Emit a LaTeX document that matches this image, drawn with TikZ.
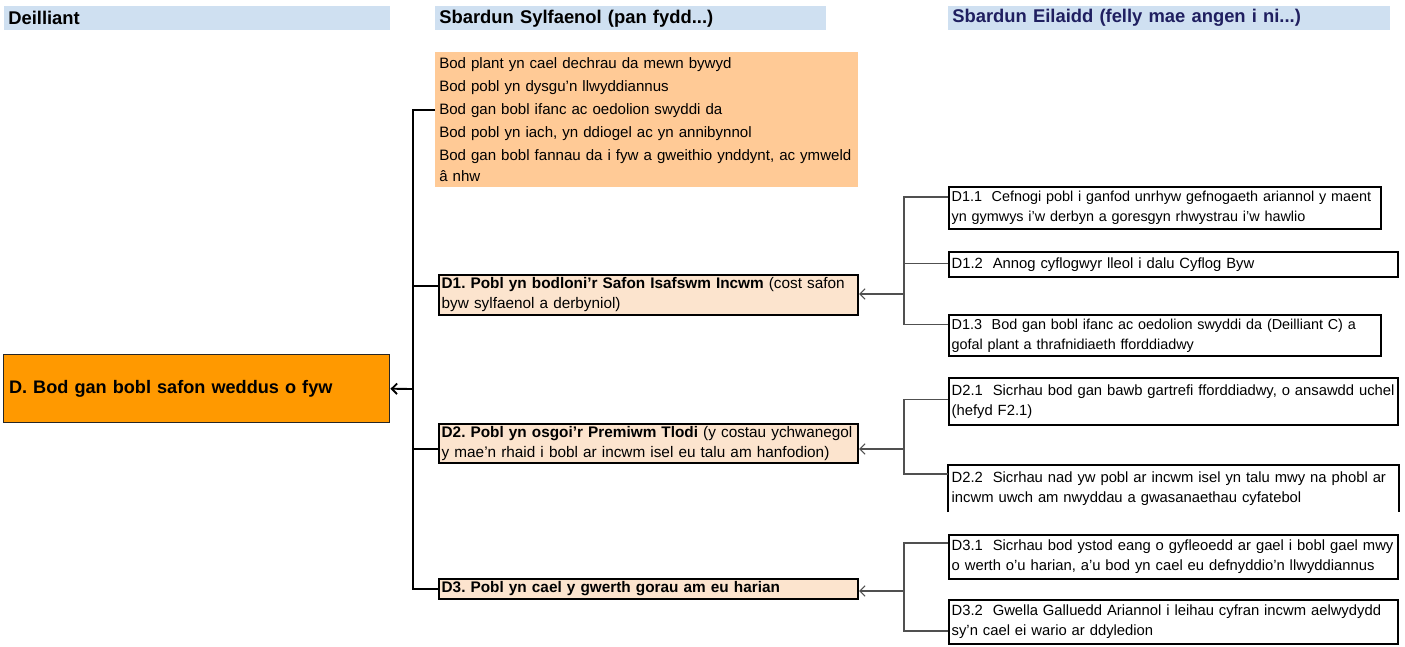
\documentclass[tikz,border=0pt]{standalone}
\usepackage{fontspec}
\setmainfont{Liberation Sans}
\usetikzlibrary{arrows.meta,positioning}
\frenchspacing
\definecolor{hdrblue}{RGB}{207,224,241}
\definecolor{lstorange}{RGB}{255,202,150}
\definecolor{mainorange}{RGB}{255,153,0}
\definecolor{drvpeach}{RGB}{252,228,206}
\definecolor{hdrnavy}{RGB}{31,31,96}
\definecolor{linkgray}{RGB}{80,80,80}
\tikzset{
  hdr/.style={fill=hdrblue, anchor=north west, inner xsep=3pt, inner ysep=0pt, minimum height=18pt, align=left, font=\fontsize{13.8}{16}\selectfont\bfseries},
  lstbox/.style={fill=lstorange, anchor=north west, inner xsep=3pt, minimum height=101.25pt, align=left, font=\fontsize{11.3}{17.25}\selectfont},
  mainbox/.style={draw=black!85, line width=1.1pt, fill=mainorange, anchor=north west, inner xsep=4pt, minimum height=51pt, align=left, font=\fontsize{13.6}{17}\selectfont\bfseries},
  drvbox/.style={draw, line width=1.5pt, fill=drvpeach, anchor=north west, inner xsep=2pt, inner ysep=1pt, align=left, text width=310.25pt, font=\fontsize{11.5}{15}\selectfont},
  subbox/.style={draw, line width=1.5pt, fill=white, anchor=north west, inner xsep=2pt, inner ysep=1pt, align=left, font=\fontsize{11.1}{15}\selectfont},
  narrow/.style={font=\fontsize{10.8}{15}\selectfont},
  trunk/.style={line width=1.4pt, black},
  link/.style={line width=0.8pt, linkgray},
  tip/.style={-{Straight Barb[length=4pt,width=8pt]}},
}
\begin{document}
\begin{tikzpicture}[x=0.75pt, y=-0.75pt]
  \useasboundingbox (0,0) rectangle (1405,646);

  % --- column headers ---
  \node[hdr, text width=283.5pt] (hOut) at (4,6) {Deilliant};
  \node[hdr, text width=287.25pt] (hPri) at (435,6) {Sbardun Sylfaenol (pan fydd...)};
  \node[hdr, text width=325.5pt, text=hdrnavy] (hSec) at (948,6) {Sbardun Eilaidd (felly mae angen i ni...)};

  % --- outcome ---
  \node[mainbox, text width=281.5pt] (mainD) at (3,354) {D. Bod gan bobl safon weddus o fyw};

  % --- primary drivers ---
  \node[lstbox, text width=311.25pt] (lst) at (435,52) {%
    Bod plant yn cael dechrau da mewn bywyd\\
    Bod pobl yn dysgu’n llwyddiannus\\
    Bod gan bobl ifanc ac oedolion swyddi da\\
    Bod pobl yn iach, yn ddiogel ac yn annibynnol\\
    Bod gan bobl fannau da i fyw a gweithio ynddynt, ac ymweld\\[-1.5pt]
    â nhw};
  \node[drvbox, minimum height=30pt] (D1) at (438,274) {\textbf{D1. Pobl yn bodloni’r Safon Isafswm Incwm} (cost safon\\byw sylfaenol a derbyniol)};
  \node[drvbox, minimum height=29.25pt] (D2) at (438,423) {\textbf{D2. Pobl yn osgoi’r Premiwm Tlodi} (y costau ychwanegol\\y mae’n rhaid i bobl ar incwm isel eu talu am hanfodion)};
  \node[drvbox, minimum height=15pt] (D3) at (438,578) {\textbf{D3. Pobl yn cael y gwerth gorau am eu harian}};

  % --- secondary drivers ---
  \node[subbox, narrow, text width=320pt, minimum height=31.5pt] (D11) at (948,186) {\mbox{D1.1~~Cefnogi pobl i ganfod unrhyw gefnogaeth ariannol y maent}\\yn gymwys i’w derbyn a goresgyn rhwystrau i’w hawlio};
  \node[subbox, text width=332.75pt, minimum height=18.75pt] (D12) at (948,251) {D1.2~~Annog cyflogwyr lleol i dalu Cyflog Byw};
  \node[subbox, narrow, text width=320pt, minimum height=30.75pt] (D13) at (948,314) {\mbox{D1.3~~Bod gan bobl ifanc ac oedolion swyddi da (Deilliant C) a}\\gofal plant a thrafnidiaeth fforddiadwy};
  \node[subbox, text width=332.75pt, minimum height=35.25pt] (D21) at (948,377) {D2.1~~Sicrhau bod gan bawb gartrefi fforddiadwy, o ansawdd uchel\\(hefyd F2.1)};
  \node[subbox, draw=none, text width=332.75pt, minimum height=33.75pt] (D22) at (948,465) {D2.2~~Sicrhau nad yw pobl ar incwm isel yn talu mwy na phobl ar\\incwm uwch am nwyddau a gwasanaethau cyfatebol};
  \draw[line width=1.5pt] (D22.south west) -- (D22.north west) -- (D22.north east) -- (D22.south east);
  \node[subbox, text width=332.75pt, minimum height=33pt] (D31) at (948,534) {D3.1~~Sicrhau bod ystod eang o gyfleoedd ar gael i bobl gael mwy\\o werth o’u harian, a’u bod yn cael eu defnyddio’n llwyddiannus};
  \node[subbox, text width=332.75pt, minimum height=33pt] (D32) at (948,599) {D3.2~~Gwella Galluedd Ariannol i leihau cyfran incwm aelwydydd\\sy’n cael ei wario ar ddyledion};

  % --- left tree ---
  \coordinate (jOut) at (413,389);
  \coordinate (lstIn) at ([yshift=7.1pt]lst.west);
  \coordinate (D1In) at ([yshift=6.75pt]D1.west);
  \coordinate (D2In) at ([yshift=-4.1pt]D2.west);
  \draw[trunk, tip] (jOut) -- (mainD.east);
  \draw[trunk] (lstIn) -| (jOut);
  \draw[trunk] (D1In) -| (jOut);
  \draw[trunk] (D2In) -| (jOut);
  \draw[trunk] (D3.west) -| (jOut);

  % --- right trees ---
  \coordinate (j1) at (904,294);
  \coordinate (j2) at (904,449);
  \coordinate (j3) at (904,591);
  \coordinate (D11In) at ([yshift=8.25pt]D11.west);
  \coordinate (D12In) at ([yshift=1pt]D12.west);
  \coordinate (D13In) at ([yshift=8.25pt]D13.west);
  \coordinate (D21In) at ([yshift=1.5pt]D21.west);
  \coordinate (D22In) at ([yshift=10.9pt]D22.west);
  \coordinate (D31In) at ([yshift=10.5pt]D31.west);
  \coordinate (D32In) at ([yshift=-6.75pt]D32.west);
  \draw[link, tip] (j1) -- (j1 -| D1.east);
  \draw[link, tip] (j2) -- (j2 -| D2.east);
  \draw[link, tip] (j3) -- (j3 -| D3.east);
  \foreach \c in {D11In,D12In,D13In} \draw[link] (\c) -| (j1);
  \foreach \c in {D21In,D22In} \draw[link] (\c) -| (j2);
  \foreach \c in {D31In,D32In} \draw[link] (\c) -| (j3);
\end{tikzpicture}
\end{document}
